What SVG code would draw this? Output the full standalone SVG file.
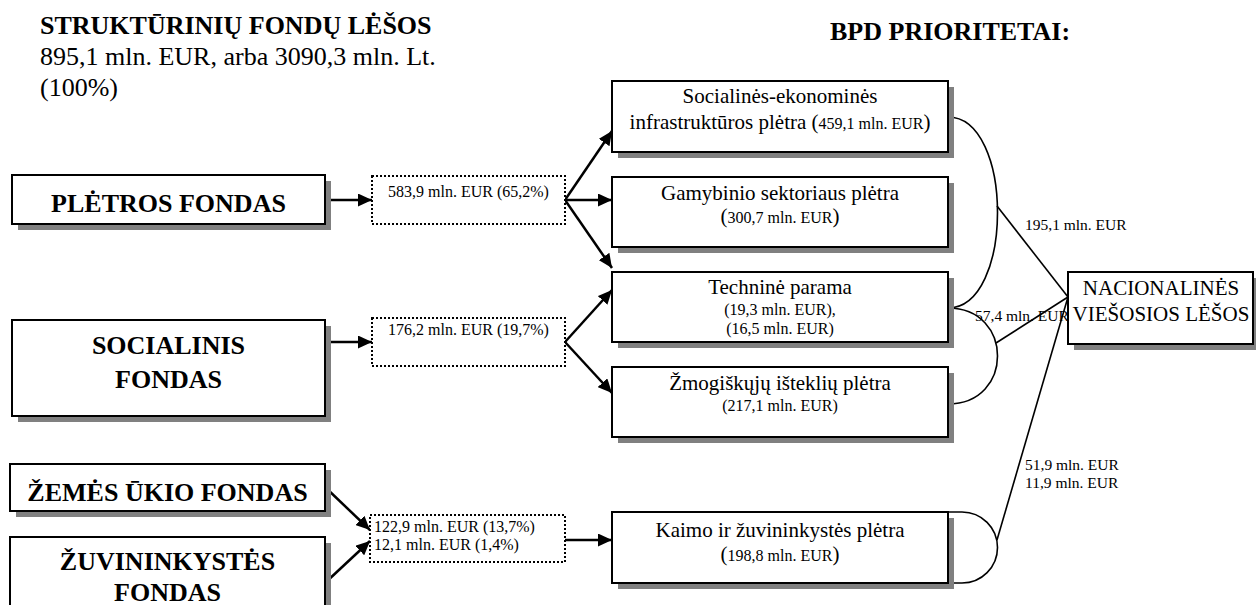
<svg xmlns="http://www.w3.org/2000/svg" width="1256" height="605" viewBox="0 0 1256 605" font-family="'Liberation Serif','Times New Roman',serif">
<defs>
<marker id="arr" markerUnits="userSpaceOnUse" markerWidth="15" markerHeight="13" refX="14" refY="6.5" orient="auto">
<path d="M0,0 L14,6.5 L0,13 z" fill="#000"/>
</marker>
</defs>
<style>
text{font-family:"Liberation Serif","Times New Roman",serif;fill:#000}
.hd{font-size:26px;font-weight:bold}
.hr{font-size:26px}
.bb{font-size:26px;font-weight:bold;text-anchor:middle}
.mt{font-size:21px;text-anchor:middle}
.ms{font-size:16px;text-anchor:middle}
.sm{font-size:16px}
.lb{font-size:15.5px}
.box{fill:#fff;stroke:#000;stroke-width:2}
.sh{fill:#808080}
.dot{fill:#fff;stroke:#000;stroke-width:2;stroke-dasharray:2 2}
.ar{stroke:#000;stroke-width:2.5;fill:none;marker-end:url(#arr)}
.cv{stroke:#000;stroke-width:1.6;fill:none}
</style>
<rect width="1256" height="605" fill="#fff"/>

<g id="header">
<text class="hd" x="40" y="34">STRUKTŪRINIŲ FONDŲ LĖŠOS</text>
<text class="hr" x="40" y="65">895,1 mln. EUR, arba 3090,3 mln. Lt.</text>
<text class="hr" x="40" y="96">(100%)</text>
<text class="hd" x="830" y="40">BPD PRIORITETAI:</text>
</g>

<g id="connectors">
<line class="ar" x1="325" y1="200" x2="372" y2="200"/>
<line class="ar" x1="325" y1="342" x2="372" y2="342"/>
<line class="ar" x1="565" y1="200" x2="612" y2="131"/>
<line class="ar" x1="565" y1="200" x2="612" y2="200"/>
<line class="ar" x1="565" y1="200" x2="612" y2="268"/>
<line class="ar" x1="565" y1="342" x2="612" y2="290"/>
<line class="ar" x1="565" y1="342" x2="612" y2="393"/>
<line class="ar" x1="325" y1="487" x2="370" y2="530"/>
<line class="ar" x1="325" y1="583" x2="370" y2="541"/>
<line class="ar" x1="565" y1="540" x2="612" y2="540"/>
<path class="cv" d="M948,117 C1014,117 1014,308 948,308"/>
<path class="cv" d="M948,308 C1014,308 1014,404 948,404"/>
<path class="cv" d="M948,512 H962 A35.5,35.5 0 0 1 962,583 H948"/>
<line class="cv" x1="997" y1="206" x2="1068" y2="297"/>
<line class="cv" x1="996" y1="343" x2="1068" y2="297"/>
<line class="cv" x1="997" y1="540" x2="1068" y2="297"/>
<text class="lb" x="1025" y="230">195,1 mln. EUR</text>
<text class="lb" x="975" y="321">57,4 mln. EUR</text>
<text class="lb" x="1025" y="470">51,9 mln. EUR</text>
<text class="lb" x="1025" y="488">11,9 mln. EUR</text>
</g>

<g id="pletros-fondas">
<rect class="sh" x="18" y="181" width="313" height="49"/>
<rect class="box" x="12" y="175" width="313" height="49"/>
<text class="bb" x="168.5" y="212">PLĖTROS FONDAS</text>
</g>
<g id="socialinis-fondas">
<rect class="sh" x="18" y="326" width="313" height="96"/>
<rect class="box" x="12" y="320" width="313" height="96"/>
<text class="bb" x="168.5" y="354">SOCIALINIS</text>
<text class="bb" x="168.5" y="388">FONDAS</text>
</g>
<g id="zemes-ukio-fondas">
<rect class="sh" x="16" y="470" width="315" height="47"/>
<rect class="box" x="10" y="464" width="315" height="47"/>
<text class="bb" x="167.5" y="501">ŽEMĖS ŪKIO FONDAS</text>
</g>
<g id="zuvininkystes-fondas">
<rect class="sh" x="16" y="543" width="315" height="80"/>
<rect class="box" x="10" y="537" width="315" height="80"/>
<text class="bb" x="167.5" y="570">ŽUVININKYSTĖS</text>
<text class="bb" x="167.5" y="601">FONDAS</text>
</g>

<g id="suma-pletros">
<rect class="dot" x="372" y="176" width="193" height="48"/>
<text class="ms" x="468.5" y="197">583,9 mln. EUR (65,2%)</text>
</g>
<g id="suma-socialinis">
<rect class="dot" x="372" y="318" width="193" height="48"/>
<text class="ms" x="468.5" y="335">176,2 mln. EUR (19,7%)</text>
</g>
<g id="suma-kaimo">
<rect class="dot" x="370" y="515" width="195" height="47"/>
<text class="sm" x="374" y="532">122,9 mln. EUR (13,7%)</text>
<text class="sm" x="374" y="550">12,1 mln. EUR (1,4%)</text>
</g>

<g id="socialines-ekonomines">
<rect class="sh" x="618" y="87" width="336" height="71"/>
<rect class="box" x="612" y="81" width="336" height="71"/>
<text class="mt" x="780" y="103">Socialinės-ekonominės</text>
<text class="mt" x="780" y="129">infrastruktūros plėtra (<tspan style="font-size:16px">459,1 mln. EUR</tspan>)</text>
</g>
<g id="gamybinio-sektoriaus">
<rect class="sh" x="618" y="183" width="336" height="70"/>
<rect class="box" x="612" y="177" width="336" height="70"/>
<text class="mt" x="780" y="200">Gamybinio sektoriaus plėtra</text>
<text class="mt" x="780" y="223">(<tspan style="font-size:16px">300,7 mln. EUR</tspan>)</text>
</g>
<g id="technine-parama">
<rect class="sh" x="618" y="278" width="336" height="70"/>
<rect class="box" x="612" y="272" width="336" height="70"/>
<text class="mt" x="780" y="294">Techninė parama</text>
<text class="ms" x="780" y="315">(19,3 mln. EUR),</text>
<text class="ms" x="780" y="334">(16,5 mln. EUR)</text>
</g>
<g id="zmogiskuju-istekliu">
<rect class="sh" x="618" y="373" width="336" height="70"/>
<rect class="box" x="612" y="367" width="336" height="70"/>
<text class="mt" x="780" y="390">Žmogiškųjų išteklių plėtra</text>
<text class="ms" x="780" y="411">(217,1 mln. EUR)</text>
</g>
<g id="kaimo-zuvininkystes">
<rect class="sh" x="618" y="518" width="336" height="71"/>
<rect class="box" x="612" y="512" width="336" height="71"/>
<text class="mt" x="780" y="537">Kaimo ir žuvininkystės plėtra</text>
<text class="mt" x="780" y="561">(<tspan style="font-size:16px">198,8 mln. EUR</tspan>)</text>
</g>
<g id="nacionalines-lesos">
<rect class="sh" x="1074" y="278" width="190" height="72"/>
<rect class="box" x="1068" y="272" width="185" height="72"/>
<text class="mt" x="1161" y="295">NACIONALINĖS</text>
<text class="mt" x="1161" y="321">VIEŠOSIOS LĖŠOS</text>
</g>
</svg>
